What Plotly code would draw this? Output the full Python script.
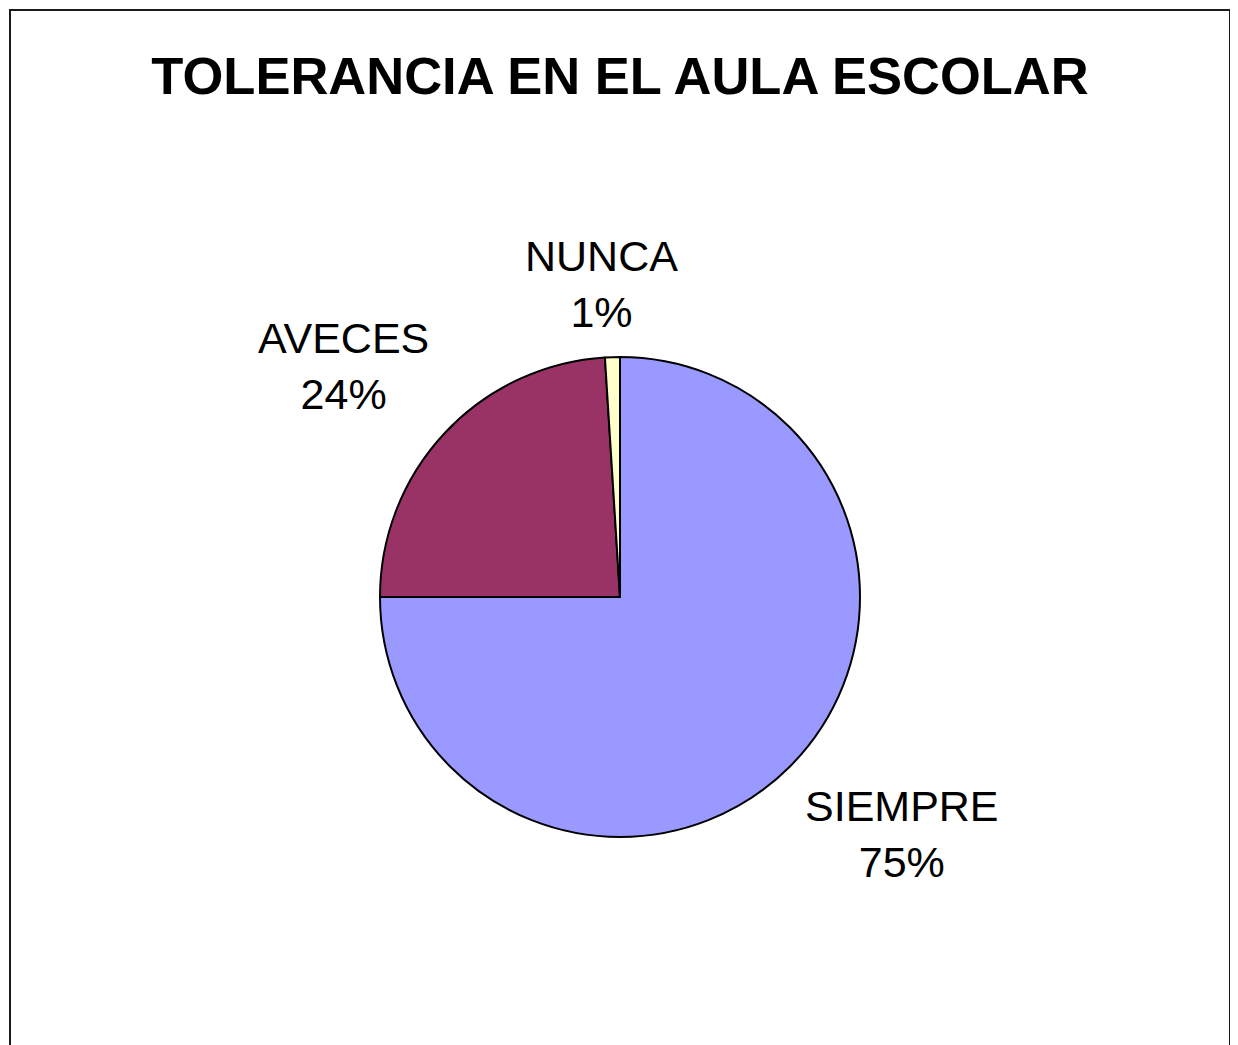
import math
import plotly.graph_objects as go

## chart data
categorias = ["SIEMPRE", "AVECES", "NUNCA"]
valores = [75, 24, 1]
colores = ["#9999FF", "#993366", "#FFFFCC"]
titulo = "TOLERANCIA EN EL AULA ESCOLAR"

W, H = 1238, 1045
OFF = 8  # page body margin, the figure is drawn 8px right/down
FONT = "Arial, Liberation Sans, sans-serif"

# pie placement in pixels (center + radius), converted to paper domain
cx, cy, R = 620 - OFF, 597 - OFF, 240
dom_x = [(cx - R) / W, (cx + R) / W]
dom_y = [(H - cy - R) / H, (H - cy + R) / H]

fig = go.Figure(
    go.Pie(
        labels=categorias,
        values=valores,
        marker=dict(colors=colores, line=dict(color="black", width=2)),
        sort=False,
        direction="clockwise",
        rotation=0,
        textinfo="none",
        hoverinfo="label+percent",
        showlegend=False,
        domain=dict(x=dom_x, y=dom_y),
    )
)

## data labels outside the slices, placed from the slice mid-angles
total = sum(valores)
acum = 0
r_lab = R * 1.08
for cat, v in zip(categorias, valores):
    mid = (acum + v / 2) / total * 2 * math.pi
    acum += v
    s, c = math.sin(mid), math.cos(mid)
    px_ = cx + r_lab * s
    py_ = H - cy + r_lab * c
    xa = "left" if s > 0.1 else ("right" if s < -0.1 else "center")
    ya = "bottom" if c > 0.1 else ("top" if c < -0.1 else "middle")
    pct = round(v / total * 100)
    fig.add_annotation(
        x=px_ / W, y=py_ / H, xref="paper", yref="paper",
        text=f"{cat}<br>{pct}%", showarrow=False,
        xanchor=xa, yanchor=ya, align="center",
        xshift=-10 if xa == "center" else 0,
        font=dict(family=FONT, size=43, color="black"),
    )

# chart frame (no bottom edge visible in the reference)
fig.add_shape(
    type="rect", xref="paper", yref="paper",
    x0=(10 - OFF) / W, x1=(1230 - OFF) / W, y0=-0.02, y1=(H - 10 + OFF) / H,
    line=dict(color="#1a1a1a", width=2), fillcolor="rgba(0,0,0,0)",
)

fig.update_layout(
    width=W,
    height=H,
    margin=dict(l=0, r=0, t=0, b=0),
    paper_bgcolor="white",
    plot_bgcolor="white",
    title=dict(
        text=f"<b>{titulo}</b>",
        x=(620 - OFF) / W, xanchor="center",
        y=(H - 76 + OFF) / H, yanchor="middle",
        font=dict(family=FONT, size=52.5, color="black"),
    ),
)

fig.write_html("out.html")
